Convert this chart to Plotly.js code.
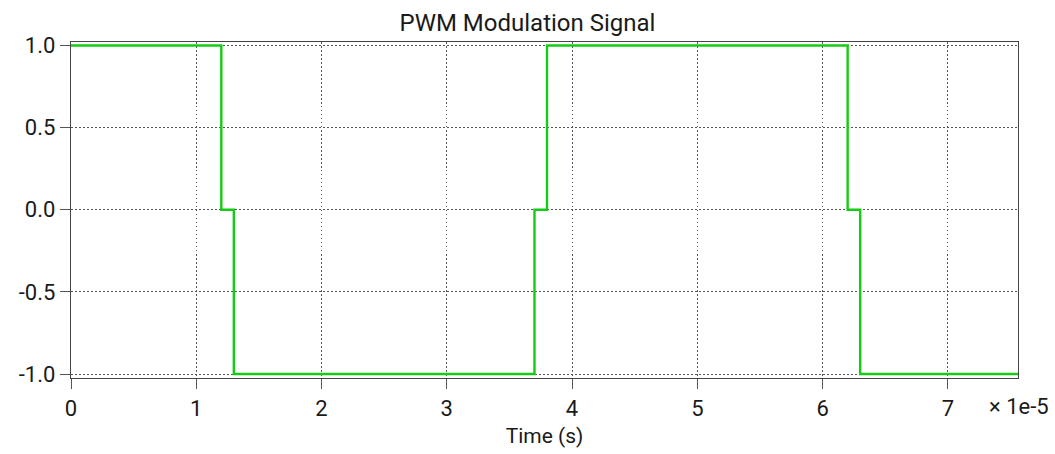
<!DOCTYPE html>
<html>
<head>
<meta charset="utf-8">
<script src="https://cdn.plot.ly/plotly-3.0.1.min.js"></script>
<style>html,body{margin:0;padding:0;background:#fff;}#chart{width:1055px;height:454px;}</style>
</head>
<body>
<div id="chart"></div>
<script>
// Time points (seconds) where the PWM level changes, and the level held from that time
const timeSec = [0, 1.2e-5, 1.3e-5, 3.7e-5, 3.8e-5, 6.2e-5, 6.3e-5, 7.56e-5];
const level   = [1, 0, -1, 0, 1, 0, -1, -1];
const xTickVals = [0, 1e-5, 2e-5, 3e-5, 4e-5, 5e-5, 6e-5, 7e-5];
const xTickText = ['0', '1', '2', '3', '4', '5', '6', '7'];
const yTickVals = [-1, -0.5, 0, 0.5, 1];
const yTickText = ['-1.0', '-0.5', '0.0', '0.5', '1.0'];

const font = 'Roboto, "DejaVu Sans", sans-serif';
const txt = '#1a1a1a';

const trace = {
  x: timeSec, y: level, type: 'scatter', mode: 'lines',
  line: {shape: 'hv', color: '#14cc14', width: 2.4},
  hoverinfo: 'none', showlegend: false
};

const layout = {
  width: 1055, height: 454,
  margin: {l: 71, r: 37, t: 42, b: 76},
  paper_bgcolor: '#fff', plot_bgcolor: '#fff',
  font: {family: font, color: txt, size: 22},
  title: {text: 'PWM Modulation Signal', font: {size: 24, family: font, color: txt}, x: 0.5, xanchor: 'center', y: 0.951, yanchor: 'middle'},
  xaxis: {
    range: [0, 7.56e-5], tickvals: xTickVals, ticktext: xTickText,
    showgrid: true, gridcolor: '#555', griddash: '1.5px,2.5px', gridwidth: 1,
    zeroline: false, showline: true, linecolor: '#444', linewidth: 1.3, mirror: true,
    ticks: 'outside', ticklen: 10, tickcolor: '#555',
    tickfont: {size: 22, family: font, color: txt},
    title: {text: 'Time (s)', font: {size: 21, family: font, color: txt}, standoff: 8}
  },
  yaxis: {
    range: [-1.024, 1.021], tickvals: yTickVals, ticktext: yTickText,
    showgrid: true, gridcolor: '#555', griddash: '1.5px,2.5px', gridwidth: 1,
    zeroline: false, showline: true, linecolor: '#444', linewidth: 1.3, mirror: true,
    ticks: 'outside', ticklen: 10, tickcolor: '#555',
    tickfont: {size: 22, family: font, color: txt}
  },
  annotations: [{
    text: '× 1e-5', xref: 'paper', yref: 'paper', x: (1051 - 71) / 947, y: 0, xanchor: 'right', yanchor: 'top',
    yshift: -14, showarrow: false, font: {size: 22, family: font, color: txt}
  }]
};

Plotly.newPlot('chart', [trace], layout, {displayModeBar: false, staticPlot: true});
</script>
</body>
</html>
